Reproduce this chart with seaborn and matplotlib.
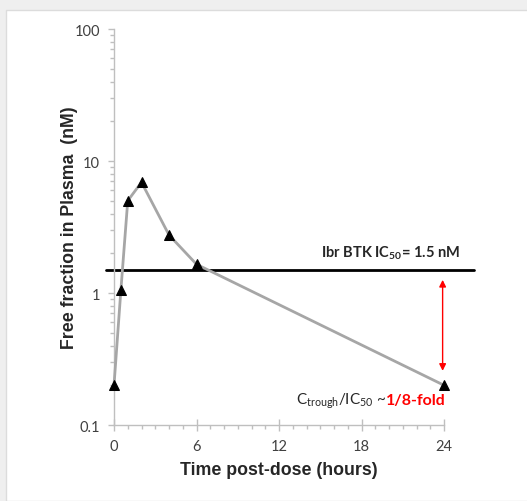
import numpy as np
import pandas as pd
import seaborn as sns
import matplotlib.pyplot as plt
from matplotlib.patches import Rectangle
from matplotlib.ticker import LogLocator, NullFormatter, MultipleLocator

# dados
tempo_h = [0, 0.5, 1, 2, 4, 6, 24]
conc_nM = [0.2, 1.05, 5.0, 6.9, 2.75, 1.65, 0.2]
ic50 = 1.5
x_ticks = [0, 6, 12, 18, 24]
y_ticks = [0.1, 1, 10, 100]
y_labels = ['0.1', '1', '10', '100']

df = pd.DataFrame({'tempo': tempo_h, 'conc': conc_nM})

sns.set_style('white')
plt.rcParams['font.family'] = ['Lato', 'DejaVu Sans']
plt.rcParams['mathtext.fontset'] = 'custom'
plt.rcParams['mathtext.rm'] = 'Lato'
plt.rcParams['mathtext.bf'] = 'Lato:bold'

fig = plt.figure(figsize=(5.27, 5.02), dpi=100, facecolor='#efefef')
# painel branco (moldura do slide)
fig.patches.append(Rectangle((6/527, 0), 1, 1 - 11/502, transform=fig.transFigure,
                             facecolor='white', edgecolor='#dcdcdc', lw=1, zorder=0))
ax = fig.add_axes([114/527, 1 - 426/502, 330/527, 396/502])
ax.set_facecolor('none')
ax.set_zorder(2)

sns.lineplot(data=df, x='tempo', y='conc', ax=ax, color='#a6a6a6', lw=2,
             marker='^', markersize=7.5, markerfacecolor='black', markeredgecolor='black',
             clip_on=False, zorder=3)

ax.set_yscale('log')
ax.set_ylim(0.1, 100)
ax.set_xlim(0, 24)
ax.set_yticks(y_ticks)
ax.set_yticklabels(y_labels)
ax.yaxis.set_minor_locator(LogLocator(base=10, subs=np.arange(2, 10)))
ax.yaxis.set_minor_formatter(NullFormatter())
ax.set_xticks(x_ticks)
ax.xaxis.set_minor_locator(MultipleLocator(1))

for s in ['top', 'right']:
    ax.spines[s].set_visible(False)
for s in ['left', 'bottom']:
    ax.spines[s].set_color('#bfbfbf')
    ax.spines[s].set_linewidth(1)

ax.tick_params(which='both', bottom=True, left=True, top=False, right=False,
               color='#bfbfbf', width=1)
ax.tick_params(axis='x', which='major', direction='inout', length=8,
               labelsize=10.5, labelcolor='#404040', pad=6)
ax.tick_params(axis='x', which='minor', direction='out', length=3)
ax.tick_params(axis='y', which='major', direction='out', length=4,
               labelsize=10.5, labelcolor='#404040', pad=6)
ax.tick_params(axis='y', which='minor', direction='out', length=3)

ax.set_xlabel('Time post-dose (hours)', fontsize=12.8, fontweight='bold',
              family=['Liberation Sans', 'DejaVu Sans'], labelpad=6)
ax.set_ylabel('Free fraction in Plasma  (nM)', fontsize=12.8, fontweight='bold',
              family=['Liberation Sans', 'DejaVu Sans'])
ax.yaxis.set_label_coords(-0.11, 0.5)

# linha do IC50
ax.axhline(ic50, xmin=-0.025, xmax=1.09, color='black', lw=2, clip_on=False, zorder=2)
ax.text(20.1, 2.04, r'Ibr BTK IC$_{\mathbf{50}}$= 1.5 nM', fontsize=10.5, fontweight='bold',
        ha='center', va='center')

# seta vermelha
ax.annotate('', xy=(23.9, 0.245), xytext=(23.9, 1.32),
            arrowprops=dict(arrowstyle='<|-|>', color='red', lw=1, mutation_scale=10),
            annotation_clip=False)

t1 = ax.text(13.2, 0.155, r'C$_{\mathrm{trough}}$/IC$_{\mathrm{50}}$ ~', fontsize=11,
             color='#262626', ha='left', va='center')
ax.annotate('1/8-fold', xycoords=t1, xy=(1, 0.5), va='center', ha='left',
            fontsize=11.5, color='red', fontweight='bold')

fig.savefig('out.png', dpi=100, facecolor=fig.get_facecolor())
